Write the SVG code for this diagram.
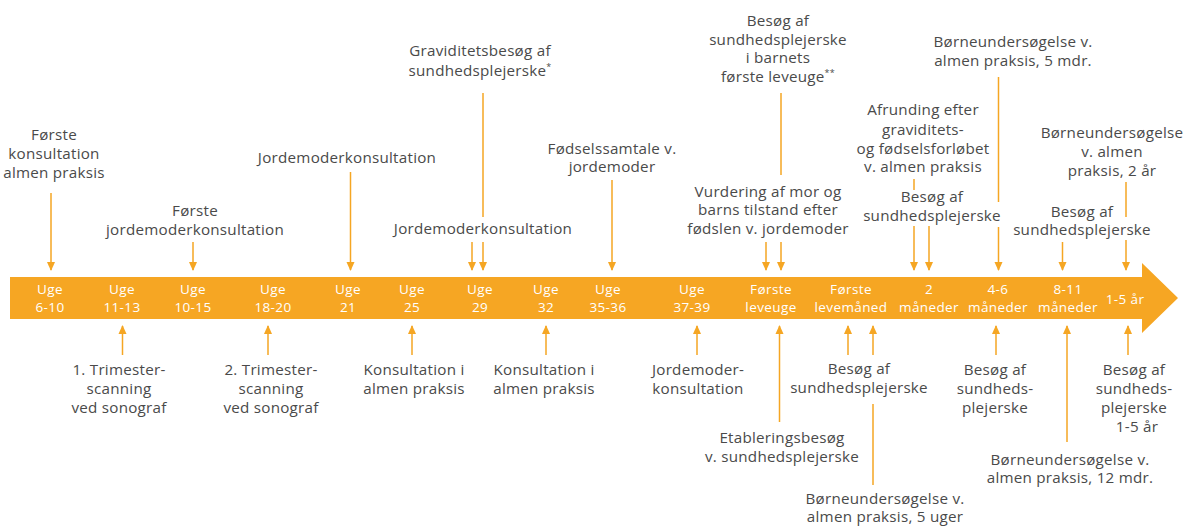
<svg xmlns="http://www.w3.org/2000/svg" width="1188" height="526" viewBox="0 0 1188 526">
<defs>
<marker id="ah" markerUnits="userSpaceOnUse" markerWidth="9" markerHeight="9" viewBox="0 0 9 9" refX="8" refY="4.5" orient="auto">
<path d="M0,0.5 L9,4.5 L0,8.5 Z" fill="#F5A623"/>
</marker>
<style>
.t{font-family:"Open Sans","Liberation Sans",sans-serif;font-size:15.2px;letter-spacing:0.25px;fill:#4a4a4a;text-anchor:middle}
.b{font-family:"Open Sans","Liberation Sans",sans-serif;font-size:13.5px;letter-spacing:0.4px;fill:#ffffff;text-anchor:middle}
.c line{stroke:#F5A623;stroke-width:1.5;fill:none}
.c line.a{marker-end:url(#ah)}
.sup{font-size:9px}
</style>
</defs>
<rect width="1188" height="526" fill="#ffffff"/>
<g id="timeline">
<path d="M10,277 L1142,277 L1142,263 L1178,298 L1142,333 L1142,319 L10,319 Z" fill="#F6A623"/>
<text class="b"><tspan x="50" y="294">Uge</tspan><tspan x="50" y="312">6-10</tspan></text>
<text class="b"><tspan x="122" y="294">Uge</tspan><tspan x="122" y="312">11-13</tspan></text>
<text class="b"><tspan x="193" y="294">Uge</tspan><tspan x="193" y="312">10-15</tspan></text>
<text class="b"><tspan x="273" y="294">Uge</tspan><tspan x="273" y="312">18-20</tspan></text>
<text class="b"><tspan x="348" y="294">Uge</tspan><tspan x="348" y="312">21</tspan></text>
<text class="b"><tspan x="412" y="294">Uge</tspan><tspan x="412" y="312">25</tspan></text>
<text class="b"><tspan x="480" y="294">Uge</tspan><tspan x="480" y="312">29</tspan></text>
<text class="b"><tspan x="546" y="294">Uge</tspan><tspan x="546" y="312">32</tspan></text>
<text class="b"><tspan x="608" y="294">Uge</tspan><tspan x="608" y="312">35-36</tspan></text>
<text class="b"><tspan x="692" y="294">Uge</tspan><tspan x="692" y="312">37-39</tspan></text>
<text class="b"><tspan x="771" y="294">Første</tspan><tspan x="771" y="312">leveuge</tspan></text>
<text class="b"><tspan x="851" y="294">Første</tspan><tspan x="851" y="312">levemåned</tspan></text>
<text class="b"><tspan x="929" y="294">2</tspan><tspan x="929" y="312">måneder</tspan></text>
<text class="b"><tspan x="998" y="294">4-6</tspan><tspan x="998" y="312">måneder</tspan></text>
<text class="b"><tspan x="1068" y="294">8-11</tspan><tspan x="1068" y="312">måneder</tspan></text>
<text class="b" x="1125" y="304">1-5 år</text>
</g>
<g id="t1"><text class="t"><tspan x="54" y="140">Første</tspan><tspan x="54" y="159">konsultation</tspan><tspan x="54" y="178">almen praksis</tspan></text></g>
<g id="t2"><text class="t"><tspan x="195" y="216">Første</tspan><tspan x="195" y="235">jordemoderkonsultation</tspan></text></g>
<g id="t3"><text class="t" x="347" y="163">Jordemoderkonsultation</text></g>
<g id="t4"><text class="t"><tspan x="480" y="56">Graviditetsbesøg af</tspan><tspan x="480" y="76">sundhedsplejerske<tspan class="sup" dy="-6">*</tspan></tspan></text></g>
<g id="t5"><text class="t" x="483" y="234">Jordemoderkonsultation</text></g>
<g id="t6"><text class="t"><tspan x="612" y="154">Fødselssamtale v.</tspan><tspan x="612" y="172">jordemoder</tspan></text></g>
<g id="t7"><text class="t"><tspan x="778" y="26">Besøg af</tspan><tspan x="778" y="45">sundhedsplejerske</tspan><tspan x="778" y="63">i barnets</tspan><tspan x="778" y="82">første leveuge<tspan class="sup" dy="-6">**</tspan></tspan></text></g>
<g id="t8"><text class="t"><tspan x="768" y="197">Vurdering af mor og</tspan><tspan x="768" y="215">barns tilstand efter</tspan><tspan x="768" y="234">fødslen v. jordemoder</tspan></text></g>
<g id="t9"><text class="t"><tspan x="923" y="115">Afrunding efter</tspan><tspan x="923" y="135">graviditets-</tspan><tspan x="923" y="154">og fødselsforløbet</tspan><tspan x="923" y="172">v. almen praksis</tspan></text></g>
<g id="t10"><text class="t"><tspan x="932" y="202">Besøg af</tspan><tspan x="932" y="221">sundhedsplejerske</tspan></text></g>
<g id="t11"><text class="t"><tspan x="1013" y="47">Børneundersøgelse v.</tspan><tspan x="1013" y="66">almen praksis, 5 mdr.</tspan></text></g>
<g id="t12"><text class="t"><tspan x="1082" y="217">Besøg af</tspan><tspan x="1082" y="235">sundhedsplejerske</tspan></text></g>
<g id="t13"><text class="t"><tspan x="1112" y="138">Børneundersøgelse</tspan><tspan x="1112" y="157">v. almen</tspan><tspan x="1112" y="176">praksis, 2 år</tspan></text></g>
<g id="b1"><text class="t"><tspan x="119" y="375">1. Trimester-</tspan><tspan x="119" y="394">scanning</tspan><tspan x="119" y="413">ved sonograf</tspan></text></g>
<g id="b2"><text class="t"><tspan x="271" y="375">2. Trimester-</tspan><tspan x="271" y="394">scanning</tspan><tspan x="271" y="413">ved sonograf</tspan></text></g>
<g id="b3"><text class="t"><tspan x="414" y="375">Konsultation i</tspan><tspan x="414" y="394">almen praksis</tspan></text></g>
<g id="b4"><text class="t"><tspan x="544" y="375">Konsultation i</tspan><tspan x="544" y="394">almen praksis</tspan></text></g>
<g id="b5"><text class="t"><tspan x="698" y="375">Jordemoder-</tspan><tspan x="698" y="394">konsultation</tspan></text></g>
<g id="b6"><text class="t"><tspan x="782" y="443">Etableringsbesøg</tspan><tspan x="782" y="462">v. sundhedsplejerske</tspan></text></g>
<g id="b7"><text class="t"><tspan x="859" y="374">Besøg af</tspan><tspan x="859" y="393">sundhedsplejerske</tspan></text></g>
<g id="b8"><text class="t"><tspan x="885" y="504">Børneundersøgelse v.</tspan><tspan x="885" y="522">almen praksis, 5 uger</tspan></text></g>
<g id="b9"><text class="t"><tspan x="995" y="375">Besøg af</tspan><tspan x="995" y="394">sundheds-</tspan><tspan x="995" y="413">plejerske</tspan></text></g>
<g id="b10"><text class="t"><tspan x="1070" y="465">Børneundersøgelse v.</tspan><tspan x="1070" y="483">almen praksis, 12 mdr.</tspan></text></g>
<g id="b11"><text class="t"><tspan x="1134" y="375">Besøg af</tspan><tspan x="1134" y="394">sundheds-</tspan><tspan x="1134" y="413">plejerske</tspan><tspan x="1137" y="432">1-5 år</tspan></text></g>
<g id="connectors" class="c">
<line class="a" x1="51" y1="193" x2="51" y2="270"/>
<line class="a" x1="193" y1="242" x2="193" y2="270"/>
<line class="a" x1="350.5" y1="172" x2="350.5" y2="270"/>
<line x1="483" y1="93" x2="483" y2="217"/>
<line class="a" x1="472" y1="242" x2="472" y2="270"/>
<line class="a" x1="483" y1="242" x2="483" y2="270"/>
<line class="a" x1="612" y1="180" x2="612" y2="270"/>
<line x1="781" y1="93" x2="781" y2="175"/>
<line class="a" x1="766" y1="242" x2="766" y2="270"/>
<line class="a" x1="781" y1="242" x2="781" y2="270"/>
<line x1="914" y1="179" x2="914" y2="190"/>
<line class="a" x1="914" y1="226" x2="914" y2="270"/>
<line class="a" x1="929" y1="226" x2="929" y2="270"/>
<line x1="998.5" y1="77" x2="998.5" y2="202"/>
<line class="a" x1="998.5" y1="227" x2="998.5" y2="270"/>
<line class="a" x1="1062.5" y1="242" x2="1062.5" y2="270"/>
<line x1="1126" y1="182" x2="1126" y2="217"/>
<line class="a" x1="1126" y1="240" x2="1126" y2="270"/>
<line class="a" x1="122.5" y1="355" x2="122.5" y2="326"/>
<line class="a" x1="268" y1="355" x2="268" y2="326"/>
<line class="a" x1="412" y1="355" x2="412" y2="326"/>
<line class="a" x1="546" y1="355" x2="546" y2="326"/>
<line class="a" x1="697" y1="355" x2="697" y2="326"/>
<line class="a" x1="779.5" y1="422" x2="779.5" y2="326"/>
<line class="a" x1="848" y1="355" x2="848" y2="326"/>
<line class="a" x1="873" y1="355" x2="873" y2="326"/>
<line x1="873" y1="404" x2="873" y2="485"/>
<line class="a" x1="996" y1="355" x2="996" y2="326"/>
<line class="a" x1="1067" y1="442" x2="1067" y2="326"/>
<line class="a" x1="1128" y1="355" x2="1128" y2="326"/>
</g>
</svg>
